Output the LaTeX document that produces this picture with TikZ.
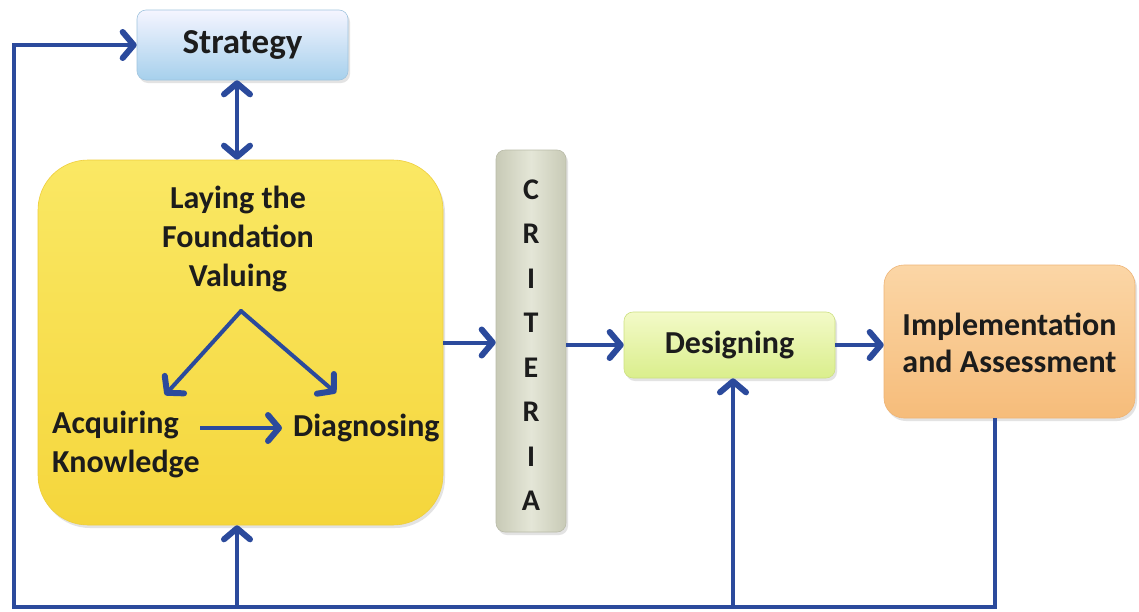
\documentclass[tikz,border=0pt]{standalone}
\usepackage{fontspec}
\setmainfont{Carlito}
\usetikzlibrary{arrows.meta,shadows}
\definecolor{flow}{HTML}{2B4A9C}
\definecolor{ink}{HTML}{1C1C1C}
\tikzset{
  flowline/.style={draw=flow,line width=4pt},
  barb/.tip={Straight Barb[length=11pt,width=26pt,line width=6pt,round]},
  tip/.style={-barb},
  dtip/.style={barb-barb},
  boxshadow/.style={drop shadow={opacity=0.22,shadow xshift=2pt,shadow yshift=-3pt}},
  label/.style={font=\bfseries\fontsize{32}{39}\selectfont,text=ink,align=center,inner sep=3pt},
}
\begin{document}
\begin{tikzpicture}[x=1pt,y=-1pt]
\useasboundingbox (0,0) rectangle (1139,611);
\fill[white] (0,0) rectangle (1139,611);

% main blocks
\node[boxshadow,rounded corners=9pt,minimum width=211pt,minimum height=70pt,
      top color=blue!4!white,bottom color={rgb,255:red,166;green,208;blue,236},
      draw={rgb,255:red,160;green,196;blue,222},line width=0.6pt] (strat) at (242.5,45) {};
\node[label,font=\bfseries\fontsize{35}{40}\selectfont] at (strat) {Strategy};

\node[boxshadow,rounded corners=50pt,minimum width=405pt,minimum height=365pt,
      top color={rgb,255:red,250;green,232;blue,100},bottom color={rgb,255:red,245;green,214;blue,60},
      draw={rgb,255:red,238;green,206;blue,60},line width=0.6pt] (found) at (240.5,342.5) {};

\node[boxshadow,rounded corners=9pt,minimum width=70pt,minimum height=382pt,
      left color={rgb,255:red,200;green,202;blue,182},right color={rgb,255:red,200;green,202;blue,182},
      middle color={rgb,255:red,228;green,230;blue,215},
      draw={rgb,255:red,185;green,187;blue,168},line width=0.6pt] (crit) at (531,341) {};
\node[label,font=\bfseries\fontsize{30}{44.5}\selectfont] at (531,345)
  {C\\R\\I\\T\\E\\R\\I\\A};

\node[boxshadow,rounded corners=9pt,minimum width=211pt,minimum height=66pt,
      top color={rgb,255:red,243;green,250;blue,200},bottom color={rgb,255:red,218;green,238;blue,140},
      draw={rgb,255:red,205;green,224;blue,130},line width=0.6pt] (des) at (729.5,345) {};
\node[label] at (des) {Designing};

\node[boxshadow,rounded corners=20pt,minimum width=251pt,minimum height=153pt,
      top color={rgb,255:red,251;green,214;blue,166},bottom color={rgb,255:red,246;green,188;blue,122},
      draw={rgb,255:red,238;green,180;blue,118},line width=0.6pt] (impl) at (1009.5,341.5) {};
\node[label,font=\bfseries\fontsize{32}{37}\selectfont] at (1009.5,343) {Implementation\\and Assessment};

% contents of the foundation block
\node[label] (lay) at (238,239) {Laying the\\Foundation\\Valuing};
\node[label,align=left,anchor=west] (acq) at (49,444) {Acquiring\\Knowledge};
\node[label,anchor=west] (diag) at (290,428) {Diagnosing};
\coordinate (apex) at (241,311);
\coordinate (acqtip) at (165,395);
\coordinate (diagtip) at (336,393);

\draw[flowline,tip,line cap=round] (apex) -- (acqtip);
\draw[flowline,tip,line cap=round] (apex) -- (diagtip);
\draw[flowline,tip,shorten >=8pt] (200,0 |- diag.west) -- (diag.west);

% connections between blocks
\draw[flowline,dtip] (strat.south -| 237,0) -- (found.north -| 237,0);
\draw[flowline,tip] (found.east) -- (found.east -| crit.west);
\draw[flowline,tip] (crit.east |- des.west) -- (des.west);
\draw[flowline,tip] (des.east) -- (des.east -| impl.west);

% feedback loop along the bottom
\coordinate (br) at (995,607);
\coordinate (bl) at (14,607);
\draw[flowline,tip] (impl.south -| br) -- (br) -- (bl) |- (strat.west);
\draw[flowline,tip] (bl -| 237,0) -- (found.south -| 237,0);
\draw[flowline,tip] (bl -| 733,0) -- (des.south -| 733,0);
\end{tikzpicture}
\end{document}
